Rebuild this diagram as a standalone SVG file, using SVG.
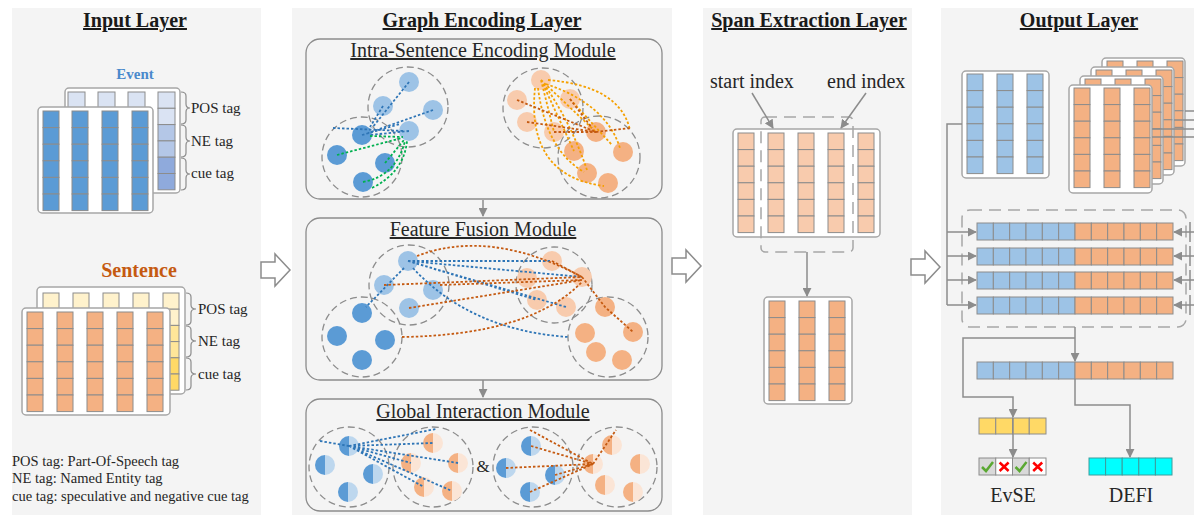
<svg xmlns="http://www.w3.org/2000/svg" xmlns:xlink="http://www.w3.org/1999/xlink" width="1194" height="517" viewBox="0 0 1194 517">
<style>
.panel{fill:#f4f4f4}
.mod{fill:#f4f4f4;stroke:#8c8c8c;stroke-width:1.3}
.mat{fill:#fff;stroke:#a6a6a6;stroke-width:1.5}
.dc{fill:none;stroke:#8c8c8c;stroke-width:1.3;stroke-dasharray:7 4}
.dr{fill:none;stroke:#a6a6a6;stroke-width:1.5;stroke-dasharray:12 7}
.ttl{font-family:"Liberation Serif",serif;font-weight:bold;font-size:20px;text-anchor:middle;text-decoration:underline;fill:#1a1a1a}
.mt{font-family:"Liberation Serif",serif;font-size:20px;text-anchor:middle;text-decoration:underline;fill:#262626}
.lb{font-family:"Liberation Serif",serif;font-size:15px;fill:#262626}
.lg{font-family:"Liberation Serif",serif;font-size:14.5px;fill:#262626}
.big{font-family:"Liberation Serif",serif;font-size:20px;fill:#262626}
.br{fill:none;stroke:#8c8c8c;stroke-width:1.2}
.ln{fill:none;stroke:#8c8c8c;stroke-width:1.5}
.ar{fill:none;stroke:#8c8c8c;stroke-width:1.5;marker-end:url(#ah)}
.eb{fill:none;stroke:#2e75b6;stroke-width:1.8;stroke-dasharray:2.5 2}
.eg{fill:none;stroke:#00b050;stroke-width:1.8;stroke-dasharray:2.5 2}
.eo{fill:none;stroke:#f5a000;stroke-width:1.8;stroke-dasharray:2.5 2}
.ebr{fill:none;stroke:#c55a11;stroke-width:1.8;stroke-dasharray:2.5 2}
.lbn{fill:#9dc3e6}.dbn{fill:#5b9bd5}.lon{fill:#f8cbad}.don{fill:#f4b183}
</style>
<defs>
<marker id="ah" viewBox="0 0 10 10" refX="9" refY="5" markerWidth="9" markerHeight="9" markerUnits="userSpaceOnUse" orient="auto"><path d="M0,0 L10,5 L0,10 Z" fill="#8c8c8c"/></marker>
<g id="col" stroke="#8c8c8c" stroke-width="1">
<rect x="0" y="0" width="16" height="16.6"/><rect x="0" y="16.6" width="16" height="16.6"/><rect x="0" y="33.2" width="16" height="16.6"/><rect x="0" y="49.8" width="16" height="16.6"/><rect x="0" y="66.4" width="16" height="16.6"/><rect x="0" y="83" width="16" height="16.6"/>
</g>
<g id="bar" stroke="#8c8c8c" stroke-width="1">
<rect x="0" y="0" width="16.33" height="17" fill="#9dc3e6"/><rect x="16.33" y="0" width="16.33" height="17" fill="#9dc3e6"/><rect x="32.66" y="0" width="16.33" height="17" fill="#9dc3e6"/><rect x="49" y="0" width="16.33" height="17" fill="#9dc3e6"/><rect x="65.33" y="0" width="16.33" height="17" fill="#9dc3e6"/><rect x="81.66" y="0" width="16.33" height="17" fill="#9dc3e6"/>
<rect x="98" y="0" width="16.33" height="17" fill="#f4b183"/><rect x="114.33" y="0" width="16.33" height="17" fill="#f4b183"/><rect x="130.66" y="0" width="16.33" height="17" fill="#f4b183"/><rect x="147" y="0" width="16.33" height="17" fill="#f4b183"/><rect x="163.33" y="0" width="16.33" height="17" fill="#f4b183"/><rect x="179.66" y="0" width="16.33" height="17" fill="#f4b183"/>
</g>
<g id="hb"><path d="M0,-10A10,10 0 0 0 0,10Z" fill="#5b9bd5"/><path d="M0,-10A10,10 0 0 1 0,10Z" fill="#bdd7ee"/></g>
<g id="ho"><path d="M0,-10A10,10 0 0 0 0,10Z" fill="#f4b183"/><path d="M0,-10A10,10 0 0 1 0,10Z" fill="#fbe5d6"/></g>
<polygon id="harrow" points="0,-8 14,-8 14,-16 29,0 14,16 14,8 0,8" fill="#fff" stroke="#8c8c8c" stroke-width="1.5"/>
</defs>

<rect x="0" y="0" width="1194" height="517" fill="#fff"/>

<!-- Input layer -->
<g id="input-layer">
<rect class="panel" x="12" y="8" width="249" height="507"/>
<text class="ttl" x="135" y="27">Input Layer</text>
<text x="135" y="79" text-anchor="middle" font-family="Liberation Serif, serif" font-weight="bold" font-size="15" fill="#4a89cc">Event</text>
<rect class="mat" x="65" y="88" width="115" height="105" rx="4"/>
<g stroke="#8c8c8c" fill="#dae3f3">
<rect x="68" y="92" width="17" height="16"/><rect x="98" y="92" width="17" height="16"/><rect x="128" y="92" width="17" height="16"/>
<rect x="158" y="92" width="17" height="16.3"/><rect x="158" y="108.3" width="17" height="16.3"/>
<rect x="158" y="124.6" width="17" height="16.3" fill="#b4c7e7"/><rect x="158" y="140.9" width="17" height="16.3" fill="#b4c7e7"/>
<rect x="158" y="157.2" width="17" height="16.3" fill="#8faadc"/><rect x="158" y="173.5" width="17" height="16.3" fill="#8faadc"/>
</g>
<rect class="mat" x="38" y="107" width="115" height="106" rx="4"/>
<use xlink:href="#col" x="43" y="111" fill="#5b9bd5"/><use xlink:href="#col" x="72" y="111" fill="#5b9bd5"/><use xlink:href="#col" x="102" y="111" fill="#5b9bd5"/><use xlink:href="#col" x="132" y="111" fill="#5b9bd5"/>
<path class="br" d="M181,92 Q186,92 186,96 L186,104 Q186,108 190,108 Q186,108 186,112 L186,120 Q186,124 181,124"/>
<path class="br" d="M181,125 Q186,125 186,129 L186,137 Q186,141 190,141 Q186,141 186,145 L186,153 Q186,157 181,157"/>
<path class="br" d="M181,158 Q186,158 186,162 L186,170 Q186,174 190,174 Q186,174 186,178 L186,186 Q186,190 181,190"/>
<text class="lb" x="191" y="113">POS tag</text>
<text class="lb" x="191" y="146">NE tag</text>
<text class="lb" x="191" y="178">cue tag</text>

<text x="139" y="277" text-anchor="middle" font-family="Liberation Serif, serif" font-weight="bold" font-size="20" fill="#c55a11">Sentence</text>
<rect class="mat" x="37" y="287" width="148" height="107" rx="4"/>
<g stroke="#8c8c8c" fill="#fff2cc">
<rect x="43" y="293" width="16" height="16"/><rect x="73" y="293" width="16" height="16"/><rect x="103" y="293" width="16" height="16"/><rect x="133" y="293" width="16" height="16"/>
<rect x="163" y="293" width="16" height="16.2"/><rect x="163" y="309.2" width="16" height="16.2"/>
<rect x="163" y="325.4" width="16" height="16.2" fill="#ffe699"/><rect x="163" y="341.6" width="16" height="16.2" fill="#ffe699"/>
<rect x="163" y="357.8" width="16" height="16.2" fill="#ffd966"/><rect x="163" y="374" width="16" height="16.2" fill="#ffd966"/>
</g>
<rect class="mat" x="22" y="308" width="148" height="107" rx="4"/>
<use xlink:href="#col" x="27" y="312" fill="#f4b183"/><use xlink:href="#col" x="57" y="312" fill="#f4b183"/><use xlink:href="#col" x="87" y="312" fill="#f4b183"/><use xlink:href="#col" x="117" y="312" fill="#f4b183"/><use xlink:href="#col" x="147" y="312" fill="#f4b183"/>
<path class="br" d="M186,293 Q191,293 191,297 L191,305 Q191,309 196,309 Q191,309 191,313 L191,321 Q191,325 186,325"/>
<path class="br" d="M186,326 Q191,326 191,330 L191,337 Q191,341 196,341 Q191,341 191,345 L191,353 Q191,357 186,357"/>
<path class="br" d="M186,358 Q191,358 191,362 L191,370 Q191,374 196,374 Q191,374 191,378 L191,386 Q191,390 186,390"/>
<text class="lb" x="198" y="314">POS tag</text>
<text class="lb" x="198" y="346">NE tag</text>
<text class="lb" x="198" y="379">cue tag</text>

<text class="lg" x="12" y="466">POS tag: Part-Of-Speech tag</text>
<text class="lg" x="12" y="483">NE tag: Named Entity tag</text>
<text class="lg" x="12" y="501">cue tag: speculative and negative cue tag</text>
</g>

<!-- Graph encoding layer -->
<g id="graph-layer">
<rect class="panel" x="292" y="8" width="380" height="507"/>
<text class="ttl" x="482" y="27">Graph Encoding Layer</text>
</g>

<g id="intra-module">
<rect class="mod" x="306" y="39" width="356" height="160" rx="14"/>
<text class="mt" x="483" y="57">Intra-Sentence Encoding Module</text>
<circle class="dc" cx="408" cy="107" r="40"/><circle class="dc" cx="362" cy="157" r="40"/>
<circle class="dc" cx="543" cy="108" r="40"/><circle class="dc" cx="599" cy="157" r="41"/>
<g class="lbn"><circle cx="409" cy="82" r="10"/><circle cx="383" cy="106" r="10"/><circle cx="433" cy="110" r="10"/><circle cx="409" cy="131" r="10"/></g>
<g class="dbn"><circle cx="362" cy="135" r="10"/><circle cx="337" cy="155" r="10"/><circle cx="385" cy="163" r="10"/><circle cx="363" cy="182" r="10"/></g>
<g class="lon"><circle cx="541" cy="80" r="10"/><circle cx="517" cy="100" r="10"/><circle cx="570" cy="99" r="10"/><circle cx="527" cy="122" r="10"/><circle cx="554" cy="132" r="10"/></g>
<g class="don"><circle cx="596" cy="132" r="10"/><circle cx="574" cy="151" r="10"/><circle cx="623" cy="152" r="10"/><circle cx="587" cy="173" r="10"/><circle cx="608" cy="183" r="10"/></g>
</g>

<g id="fusion-module">
<rect class="mod" x="306" y="218" width="356" height="162" rx="14"/>
<text class="mt" x="483" y="236">Feature Fusion Module</text>
<circle class="dc" cx="409" cy="285" r="40"/><circle class="dc" cx="362" cy="337" r="40"/>
<circle class="dc" cx="554" cy="285" r="38"/><circle class="dc" cx="608" cy="337" r="40"/>
<g class="lbn"><circle cx="408" cy="261" r="10"/><circle cx="384" cy="285" r="10"/><circle cx="433" cy="290" r="10"/><circle cx="409" cy="308" r="10"/></g>
<g class="dbn"><circle cx="362" cy="313" r="10"/><circle cx="337" cy="336" r="10"/><circle cx="385" cy="340" r="10"/><circle cx="362" cy="360" r="10"/></g>
<g class="lon"><circle cx="552" cy="261" r="10"/><circle cx="527" cy="278" r="10"/><circle cx="582" cy="277" r="10"/><circle cx="537" cy="300" r="10"/><circle cx="566" cy="307" r="10"/></g>
<g class="don"><circle cx="605" cy="307" r="10"/><circle cx="585" cy="333" r="10"/><circle cx="633" cy="332" r="10"/><circle cx="596" cy="352" r="10"/><circle cx="622" cy="360" r="10"/></g>
</g>

<g id="global-module">
<rect class="mod" x="306" y="399" width="356" height="112" rx="14"/>
<text class="mt" x="483" y="418">Global Interaction Module</text>
<circle class="dc" cx="349" cy="467" r="40"/><circle class="dc" cx="433" cy="467" r="40"/>
<circle class="dc" cx="533" cy="467" r="40"/><circle class="dc" cx="617" cy="467" r="40"/>
<use xlink:href="#hb" x="349" y="446"/><use xlink:href="#hb" x="325" y="465"/><use xlink:href="#hb" x="373" y="474"/><use xlink:href="#hb" x="348" y="492"/>
<use xlink:href="#ho" x="433" y="443"/><use xlink:href="#ho" x="411" y="463"/><use xlink:href="#ho" x="458" y="463"/><use xlink:href="#ho" x="424" y="487"/><use xlink:href="#ho" x="452" y="491"/>
<use xlink:href="#hb" x="531" y="446"/><use xlink:href="#hb" x="506" y="468"/><use xlink:href="#hb" x="555" y="475"/><use xlink:href="#hb" x="530" y="492"/>
<use xlink:href="#ho" x="612" y="445"/><use xlink:href="#ho" x="593" y="464"/><use xlink:href="#ho" x="640" y="464"/><use xlink:href="#ho" x="605" y="485"/><use xlink:href="#ho" x="633" y="492"/>
<text x="483" y="472" text-anchor="middle" font-family="Liberation Serif, serif" font-size="17" fill="#262626">&amp;</text>
</g>

<!-- Span extraction layer -->
<g id="span-layer">
<rect class="panel" x="703" y="8" width="209" height="507"/>
<text class="ttl" x="809" y="27">Span Extraction Layer</text>
<text class="big" x="710" y="88">start index</text>
<text class="big" x="827" y="88">end index</text>
<rect class="mat" x="733" y="129" width="147" height="108" rx="4"/>
<use xlink:href="#col" x="738" y="133" fill="#f8cbad"/><use xlink:href="#col" x="768" y="133" fill="#f8cbad"/><use xlink:href="#col" x="798" y="133" fill="#f8cbad"/><use xlink:href="#col" x="828" y="133" fill="#f8cbad"/><use xlink:href="#col" x="858" y="133" fill="#f8cbad"/>
<rect class="dr" x="761" y="117" width="92" height="135" rx="4"/>
</g>
<g id="span-result">
<rect class="mat" x="764" y="297" width="88" height="107" rx="4"/>
<use xlink:href="#col" x="769" y="301" fill="#f4b183"/><use xlink:href="#col" x="799" y="301" fill="#f4b183"/><use xlink:href="#col" x="829" y="301" fill="#f4b183"/>
</g>

<!-- Output layer -->
<g id="output-layer">
<rect class="panel" x="941" y="8" width="253" height="507"/>
<text class="ttl" x="1079" y="27">Output Layer</text>
</g>
<g id="event-matrix">
<rect class="mat" x="962" y="71" width="87" height="107" rx="4"/>
<use xlink:href="#col" x="967" y="74" fill="#9dc3e6"/><use xlink:href="#col" x="997" y="74" fill="#9dc3e6"/><use xlink:href="#col" x="1027" y="74" fill="#9dc3e6"/>
</g>
<g id="sentence-stack">
<g transform="translate(33,-27)"><rect class="mat" x="1069" y="85" width="83" height="108" rx="4"/><use xlink:href="#col" x="1074" y="88" fill="#f4b183"/><use xlink:href="#col" x="1104" y="88" fill="#f4b183"/><use xlink:href="#col" x="1134" y="88" fill="#f4b183"/></g>
<g transform="translate(22,-18)"><rect class="mat" x="1069" y="85" width="83" height="108" rx="4"/><use xlink:href="#col" x="1074" y="88" fill="#f4b183"/><use xlink:href="#col" x="1104" y="88" fill="#f4b183"/><use xlink:href="#col" x="1134" y="88" fill="#f4b183"/></g>
<g transform="translate(11,-9)"><rect class="mat" x="1069" y="85" width="83" height="108" rx="4"/><use xlink:href="#col" x="1074" y="88" fill="#f4b183"/><use xlink:href="#col" x="1104" y="88" fill="#f4b183"/><use xlink:href="#col" x="1134" y="88" fill="#f4b183"/></g>
<g><rect class="mat" x="1069" y="85" width="83" height="108" rx="4"/><use xlink:href="#col" x="1074" y="88" fill="#f4b183"/><use xlink:href="#col" x="1104" y="88" fill="#f4b183"/><use xlink:href="#col" x="1134" y="88" fill="#f4b183"/></g>
</g>
<g id="pair-bars">
<rect class="dr" x="962" y="210" width="224" height="117" rx="8"/>
<use xlink:href="#bar" x="977" y="223"/><use xlink:href="#bar" x="977" y="248"/><use xlink:href="#bar" x="977" y="272"/><use xlink:href="#bar" x="977" y="297"/>
</g>
<g id="fused-bar"><use xlink:href="#bar" x="977" y="362"/></g>
<g id="evse-bar">
<g stroke="#8c8c8c" fill="#ffd966"><rect x="979" y="418" width="16.75" height="16"/><rect x="995.75" y="418" width="16.75" height="16"/><rect x="1012.5" y="418" width="16.75" height="16"/><rect x="1029.25" y="418" width="16.75" height="16"/></g>
</g>
<g id="evse-result">
<g stroke="#8c8c8c"><rect x="979" y="458" width="16.75" height="17" fill="#d9d9d9"/><rect x="995.75" y="458" width="16.75" height="17" fill="#fff"/><rect x="1012.5" y="458" width="16.75" height="17" fill="#d9d9d9"/><rect x="1029.25" y="458" width="16.75" height="17" fill="#fff"/></g>
<path d="M982,467 L986,471 L993,462 M1015.5,467 L1019.5,471 L1026.5,462" fill="none" stroke="#5aa832" stroke-width="2.5"/>
<path d="M999.6,462.5 L1008.6,471 M1008.6,462.5 L999.6,471 M1033.2,462.5 L1042.2,471 M1042.2,462.5 L1033.2,471" fill="none" stroke="#ff0000" stroke-width="2.5"/>
<text class="big" x="1013" y="502" text-anchor="middle">EvSE</text>
</g>
<g id="defi-result">
<g stroke="#3c9c9c" fill="#00ffff"><rect x="1089" y="458" width="16.6" height="17"/><rect x="1105.6" y="458" width="16.6" height="17"/><rect x="1122.2" y="458" width="16.6" height="17"/><rect x="1138.8" y="458" width="16.6" height="17"/><rect x="1155.4" y="458" width="16.6" height="17"/></g>
<text class="big" x="1131" y="502" text-anchor="middle">DEFI</text>
</g>

<!-- Connectors -->
<g id="connectors">
<use xlink:href="#harrow" x="261" y="270"/>
<use xlink:href="#harrow" x="672" y="266"/>
<use xlink:href="#harrow" x="911" y="267"/>
<path class="ar" d="M483,200 L483,216"/>
<path class="ar" d="M483,380 L483,397"/>
<path class="ar" d="M752,93 L773,128"/>
<path class="ar" d="M866,93 L841,128"/>
<path class="ar" d="M807,252 L807,296"/>
<path class="ln" d="M962,124 L947,124 L947,305"/>
<path class="ar" d="M947,232 L976,232"/><path class="ar" d="M947,256 L976,256"/><path class="ar" d="M947,280 L976,280"/><path class="ar" d="M947,305 L976,305"/>
<path class="ln" d="M1185,111 L1194,111 M1174,120 L1194,120 M1152,129 L1194,129 M1152,137 L1194,137"/>
<path class="ar" d="M1194,232 L1174,232"/><path class="ar" d="M1194,256 L1174,256"/><path class="ar" d="M1194,280 L1174,280"/><path class="ar" d="M1194,305 L1174,305"/>
<path class="ln" d="M1190,222 L1190,242 M1190,246 L1190,266 M1190,270 L1190,290 M1190,295 L1190,315"/>
<path class="ar" d="M1075,327 L1075,361"/>
<path class="ar" d="M1075,338 L963,338 L963,397 L1013,397 L1013,417"/>
<path class="ar" d="M1013,418 L1013,457"/>
<path class="ar" d="M1075,379 L1075,405 L1130,405 L1130,457"/>

<path class="eb" d="M409,82 L372,128 M383,106 L370,127 M433,110 L368,133 M409,131 L370,135 M333,128 L404,131 M362,135 L400,124"/>
<path class="eg" d="M337,155 L402,138 M385,163 L404,140 M363,182 Q396,176 405,141 M372,188 Q404,172 407,141 M370,136 L403,137"/>
<path class="eo" d="M541,80 L596,132 M541,80 L574,151 M541,80 L554,132 M548,80 Q620,86 630,130 M546,84 Q606,104 620,148 M538,88 Q546,150 584,172 M535,88 Q526,176 604,186 M570,99 L612,145 M541,80 Q570,120 587,170"/>
<path class="ebr" d="M517,100 L596,132 M527,122 L596,132 M596,132 L630,128 M554,132 L596,132 M570,99 L592,128"/>

<path class="eb" d="M408,261 L552,261 M408,261 L582,277 M408,261 L537,300 M408,261 L566,307 M404,268 L366,307 M413,268 Q470,330 568,337"/>
<path class="ebr" d="M417,256 Q490,228 582,277 M384,285 L582,277 M440,285 L582,280 M409,308 L582,280 M402,337 Q530,335 582,282 M552,261 L582,277 M582,277 L605,307 L633,332"/>

<path class="eb" d="M320,441 L349,446 M349,446 L436,429 M349,446 L433,443 M349,446 L411,463 M349,446 L458,463 M349,446 L424,487 M349,446 L452,491"/>
<path class="ebr" d="M530,430 L593,464 M531,446 L593,464 M506,468 L593,464 M555,475 L593,464 M530,492 L593,464 M593,464 L616,430"/>
</g>
</svg>
